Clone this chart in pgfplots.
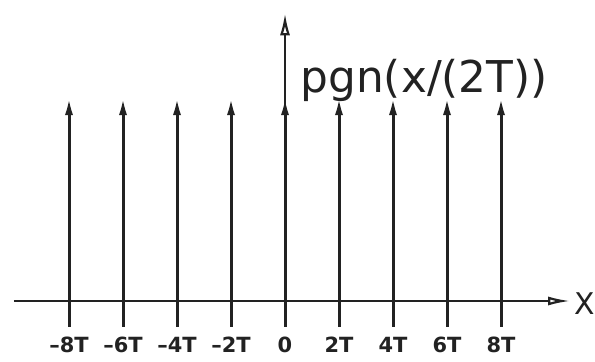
\documentclass[border=0pt]{standalone}
\usepackage{pgfplots}
\pgfplotsset{compat=1.18}
\usepackage{fontspec}
\setmainfont{DejaVu Sans}
\usetikzlibrary{arrows.meta}
\definecolor{ink}{HTML}{222222}
\begin{document}
\begin{tikzpicture}
\begin{axis}[
  x=13.5bp, y=102bp,
  xmin=-10.04, xmax=10.56, ymin=-0.127, ymax=1.41,
  axis lines=middle,
  hide obscured x ticks=false,
  axis line style={ink, line width=1.1bp},
  x axis line style={-{Latex[open,length=11bp,width=4.5bp]}},
  y axis line style={-{Latex[open,length=11bp,width=5bp]}},
  xtick={-8,-6,-4,-2,0,2,4,6,8},
  xticklabels={–8T,–6T,–4T,–2T,0,2T,4T,6T,8T},
  xticklabel style={anchor=center, yshift=-22bp, font=\fontsize{10.5}{12}\selectfont\bfseries, text=ink},
  ytick=\empty,
  major tick length=0pt,
  clip=false,
]
\addplot[ink, line width=1.5bp, quiver={u=0, v=\thisrow{v}}, -{Latex[length=9bp,width=4bp]}]
  table {
x y v
-8 -0.127 1.127
-6 -0.127 1.127
-4 -0.127 1.127
-2 -0.127 1.127
0 -0.127 1.127
2 -0.127 1.127
4 -0.127 1.127
6 -0.127 1.127
8 -0.127 1.127
};
\node[anchor=base west, inner sep=0pt, text=ink, font=\fontsize{22}{26}\selectfont] at (axis cs:0.56,1.02) {pgn(x/(2T))};
\node[anchor=center, inner sep=0pt, text=ink, font=\fontsize{15}{18}\selectfont] at (axis cs:11.11,-0.015) {X};
\coordinate (bbSW) at (axis cs:-10.556,-0.299);
\coordinate (bbNE) at (axis cs:11.481,1.4755);
\end{axis}
\pgfresetboundingbox
\path[use as bounding box] (bbSW) rectangle (bbNE);
\end{tikzpicture}
\end{document}
